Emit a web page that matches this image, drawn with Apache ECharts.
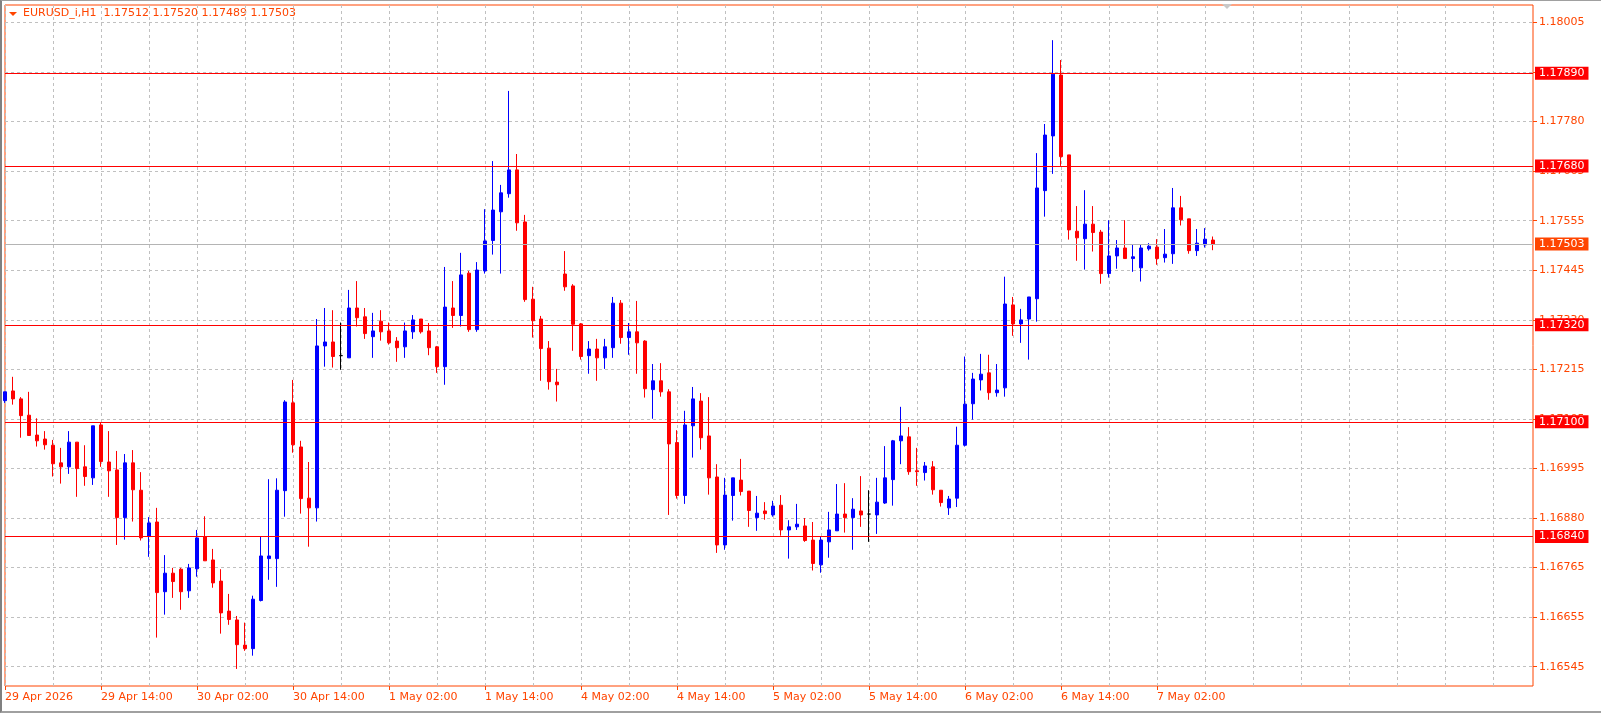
<!DOCTYPE html>
<html>
<head>
<meta charset="utf-8">
<title>EURUSD_i,H1</title>
<script src="https://cdn.jsdelivr.net/npm/echarts@6/dist/echarts.min.js"></script>
<style>
html, body { margin: 0; padding: 0; background: #fff; }
#chart { width: 1601px; height: 713px; }
#edge { position: absolute; left: 0; top: 0; width: 1601px; height: 713px; box-sizing: border-box;
        border-left: 2px solid #808080; border-top: 1px solid #a0a0a0; border-bottom: 2px solid #a0a0a0; pointer-events: none; }
</style>
</head>
<body>
<div id="chart"></div>
<div id="edge"></div>
<script>
var symbolName = 'EURUSD_i,H1';

// one label every 12 bars, first at bar 0
var timeLabels = ['29 Apr 2026', '29 Apr 14:00', '30 Apr 02:00', '30 Apr 14:00', '1 May 02:00', '1 May 14:00',
    '4 May 02:00', '4 May 14:00', '5 May 02:00', '5 May 14:00', '6 May 02:00', '6 May 14:00', '7 May 02:00'];

var opens = [
    1.17148, 1.17170, 1.17152, 1.17115, 1.17070, 1.17061, 1.17047, 1.17007, 1.16998, 1.17054,
    1.16998, 1.16973, 1.17093, 1.17009, 1.16991, 1.16883, 1.17007, 1.16945, 1.16840, 1.16873,
    1.16715, 1.16757, 1.16766, 1.16717, 1.16767, 1.16840, 1.16787, 1.16739, 1.16671, 1.16651,
    1.16594, 1.16586, 1.16695, 1.16790, 1.16790, 1.16944, 1.17143, 1.17043, 1.16927, 1.16905,
    1.17272, 1.17281, 1.17250, 1.17245, 1.17358, 1.17338, 1.17293, 1.17328, 1.17306, 1.17283,
    1.17270, 1.17304, 1.17333, 1.17306, 1.17270, 1.17225, 1.17358, 1.17341, 1.17437, 1.17309,
    1.17442, 1.17511, 1.17576, 1.17617, 1.17671, 1.17553, 1.17378, 1.17333, 1.17267, 1.17190,
    1.17435, 1.17408, 1.17322, 1.17250, 1.17265, 1.17245, 1.17268, 1.17369, 1.17291, 1.17304,
    1.17283, 1.17173, 1.17193, 1.17168, 1.17053, 1.16933, 1.17091, 1.17147, 1.17068, 1.16975,
    1.16821, 1.16933, 1.16968, 1.16943, 1.16883, 1.16898, 1.16889, 1.16911, 1.16855, 1.16862,
    1.16864, 1.16832, 1.16776, 1.16828, 1.16853, 1.16891, 1.16883, 1.16898, 1.16891, 1.16889,
    1.16916, 1.16969, 1.17057, 1.17066, 1.16989, 1.16985, 1.16998, 1.16945, 1.16905, 1.16927,
    1.17047, 1.17141, 1.17195, 1.17211, 1.17166, 1.17177, 1.17365, 1.17322, 1.17333, 1.17379,
    1.17624, 1.17748, 1.17886, 1.17705, 1.17532, 1.17515, 1.17548, 1.17530, 1.17436, 1.17476,
    1.17494, 1.17470, 1.17449, 1.17492, 1.17496, 1.17472, 1.17481, 1.17585, 1.17560, 1.17488,
    1.17501, 1.17512
];
var highs = [
    1.17168, 1.17202, 1.17156, 1.17168, 1.17108, 1.17079, 1.17059, 1.17041, 1.17079, 1.17054,
    1.17047, 1.17091, 1.17098, 1.17079, 1.17034, 1.17027, 1.17036, 1.16986, 1.16884, 1.16905,
    1.16798, 1.16769, 1.16769, 1.16778, 1.16855, 1.16886, 1.16812, 1.16766, 1.16710, 1.16660,
    1.16645, 1.16706, 1.16840, 1.16970, 1.16972, 1.17149, 1.17195, 1.17057, 1.17009, 1.17333,
    1.17358, 1.17353, 1.17325, 1.17399, 1.17419, 1.17358, 1.17347, 1.17353, 1.17325, 1.17292,
    1.17325, 1.17342, 1.17333, 1.17324, 1.17272, 1.17451, 1.17419, 1.17483, 1.17442, 1.17462,
    1.17582, 1.17691, 1.17637, 1.17850, 1.17707, 1.17569, 1.17406, 1.17340, 1.17283, 1.17220,
    1.17487, 1.17412, 1.17324, 1.17283, 1.17288, 1.17288, 1.17383, 1.17376, 1.17324, 1.17374,
    1.17285, 1.17231, 1.17233, 1.17174, 1.17081, 1.17125, 1.17179, 1.17165, 1.17156, 1.17004,
    1.16973, 1.16973, 1.17016, 1.16943, 1.16932, 1.16918, 1.16921, 1.16934, 1.16877, 1.16914,
    1.16882, 1.16873, 1.16841, 1.16896, 1.16959, 1.16961, 1.16927, 1.16977, 1.16945, 1.16973,
    1.17045, 1.17059, 1.17134, 1.17088, 1.17041, 1.17009, 1.17011, 1.16945, 1.16932, 1.17089,
    1.17248, 1.17211, 1.17254, 1.17252, 1.17231, 1.17429, 1.17383, 1.17356, 1.17383, 1.17709,
    1.17775, 1.17965, 1.17920, 1.17705, 1.17589, 1.17625, 1.17589, 1.17535, 1.17557, 1.17512,
    1.17557, 1.17501, 1.17503, 1.17505, 1.17514, 1.17537, 1.17630, 1.17612, 1.17560, 1.17537,
    1.17539, 1.17520
];
var lows = [
    1.17143, 1.17139, 1.17064, 1.17069, 1.17044, 1.17037, 1.16976, 1.16960, 1.16982, 1.16930,
    1.16955, 1.16957, 1.16998, 1.16930, 1.16821, 1.16833, 1.16874, 1.16831, 1.16794, 1.16611,
    1.16663, 1.16701, 1.16674, 1.16701, 1.16749, 1.16785, 1.16724, 1.16620, 1.16640, 1.16540,
    1.16581, 1.16570, 1.16693, 1.16742, 1.16726, 1.16885, 1.17030, 1.16892, 1.16817, 1.16874,
    1.17225, 1.17223, 1.17218, 1.17245, 1.17316, 1.17288, 1.17245, 1.17284, 1.17275, 1.17236,
    1.17245, 1.17288, 1.17300, 1.17251, 1.17211, 1.17184, 1.17313, 1.17316, 1.17304, 1.17304,
    1.17436, 1.17479, 1.17436, 1.17608, 1.17533, 1.17372, 1.17291, 1.17193, 1.17173, 1.17146,
    1.17397, 1.17261, 1.17241, 1.17209, 1.17193, 1.17220, 1.17245, 1.17277, 1.17252, 1.17209,
    1.17155, 1.17107, 1.17157, 1.16889, 1.16926, 1.16914, 1.17019, 1.17037, 1.16935, 1.16803,
    1.16810, 1.16876, 1.16933, 1.16862, 1.16853, 1.16878, 1.16885, 1.16842, 1.16790, 1.16855,
    1.16828, 1.16763, 1.16758, 1.16792, 1.16853, 1.16849, 1.16810, 1.16862, 1.16828, 1.16846,
    1.16914, 1.16910, 1.17004, 1.16980, 1.16955, 1.16967, 1.16935, 1.16908, 1.16889, 1.16907,
    1.17044, 1.17105, 1.17171, 1.17150, 1.17157, 1.17157, 1.17295, 1.17279, 1.17241, 1.17327,
    1.17565, 1.17662, 1.17680, 1.17513, 1.17465, 1.17445, 1.17486, 1.17413, 1.17427, 1.17447,
    1.17470, 1.17440, 1.17418, 1.17488, 1.17456, 1.17461, 1.17458, 1.17545, 1.17481, 1.17476,
    1.17495, 1.17489
];
var closes = [
    1.17168, 1.17152, 1.17114, 1.17069, 1.17057, 1.17048, 1.17005, 1.16998, 1.17054, 1.16994,
    1.16976, 1.17091, 1.17010, 1.16989, 1.16883, 1.17007, 1.16946, 1.16837, 1.16871, 1.16713,
    1.16757, 1.16738, 1.16715, 1.16769, 1.16837, 1.16785, 1.16735, 1.16667, 1.16652, 1.16595,
    1.16586, 1.16698, 1.16796, 1.16796, 1.16945, 1.17145, 1.17048, 1.16926, 1.16905, 1.17272,
    1.17281, 1.17248, 1.17250, 1.17358, 1.17336, 1.17300, 1.17306, 1.17304, 1.17279, 1.17268,
    1.17306, 1.17331, 1.17304, 1.17268, 1.17225, 1.17360, 1.17341, 1.17433, 1.17309, 1.17444,
    1.17510, 1.17580, 1.17619, 1.17671, 1.17551, 1.17377, 1.17329, 1.17266, 1.17191, 1.17184,
    1.17406, 1.17321, 1.17248, 1.17265, 1.17245, 1.17270, 1.17369, 1.17291, 1.17304, 1.17279,
    1.17175, 1.17193, 1.17168, 1.17050, 1.16933, 1.17093, 1.17152, 1.17064, 1.16973, 1.16821,
    1.16934, 1.16973, 1.16942, 1.16899, 1.16893, 1.16892, 1.16909, 1.16855, 1.16862, 1.16868,
    1.16831, 1.16779, 1.16832, 1.16855, 1.16891, 1.16883, 1.16902, 1.16889, 1.16891, 1.16918,
    1.16973, 1.17057, 1.17068, 1.16987, 1.16987, 1.17000, 1.16946, 1.16917, 1.16925, 1.17047,
    1.17140, 1.17197, 1.17208, 1.17166, 1.17172, 1.17367, 1.17322, 1.17331, 1.17383, 1.17630,
    1.17750, 1.17888, 1.17701, 1.17535, 1.17517, 1.17548, 1.17529, 1.17436, 1.17476, 1.17494,
    1.17470, 1.17474, 1.17494, 1.17498, 1.17470, 1.17480, 1.17585, 1.17558, 1.17488, 1.17505,
    1.17514, 1.17503
];

// right scale labels, top to bottom (evenly spaced grid)
var priceLabels = ['1.18005', '1.17890', '1.17780', '1.17665', '1.17555', '1.17445', '1.17330',
    '1.17215', '1.17105', '1.16995', '1.16880', '1.16765', '1.16655', '1.16545'];

// horizontal levels
var levels = [1.17890, 1.17680, 1.17320, 1.17100, 1.16840];
var lastPrice = 1.17503;

var totalSlots = 192;   // bars + empty space on the right
var barsPerLabel = 12;
var yMin = 1.165013, yMax = 1.180447;

var txtColor = '#ff4500';
var font = 'DejaVu Sans';
var fontSize = 11;

// tick values: spread evenly between the first and last label
var topTick = parseFloat(priceLabels[0]);
var botTick = parseFloat(priceLabels[priceLabels.length - 1]);
var tickValues = priceLabels.map(function (s, i) {
    return topTick - (topTick - botTick) * i / (priceLabels.length - 1);
});

var slots = [];
for (var i = 0; i < totalSlots; i++) slots.push(String(i));

var candles = opens.map(function (o, i) {
    return [o, closes[i], lows[i], highs[i]];
});

function isLabelSlot(i) {
    return i % barsPerLabel === 0 && i / barsPerLabel < timeLabels.length;
}

var lastIdx = opens.length - 1;
var header = symbolName + '  ' + [opens[lastIdx], highs[lastIdx], lows[lastIdx], closes[lastIdx]]
    .map(function (v) { return v.toFixed(5); }).join(' ');

var levelLines = levels.map(function (v) {
    return { yAxis: v, lineStyle: { color: '#ff0000', width: 1, type: 'solid' },
             label: { backgroundColor: '#ff0000' } };
});
levelLines.push({ yAxis: lastPrice, lineStyle: { color: '#b4b4b4', width: 1, type: 'solid' },
                  label: { backgroundColor: '#ff4500' } });

var chart = echarts.init(document.getElementById('chart'));
chart.setOption({
    animation: false,
    backgroundColor: '#ffffff',
    grid: {
        left: 5, right: 68, top: 5, bottom: 27,
        show: true, borderColor: '#ff4500', borderWidth: 1, backgroundColor: '#ffffff'
    },
    xAxis: {
        type: 'category',
        data: slots,
        boundaryGap: false,
        axisLine: { show: false },
        axisTick: {
            show: true, length: 4, interval: function (i) { return isLabelSlot(i); },
            lineStyle: { color: txtColor }
        },
        axisLabel: {
            interval: function (i) { return isLabelSlot(i); },
            formatter: function (v, i) { return isLabelSlot(i) ? timeLabels[i / barsPerLabel] : ''; },
            align: 'left', margin: 6, color: txtColor, fontSize: fontSize, fontFamily: font
        },
        splitLine: { show: true, interval: 5, lineStyle: { color: '#c0c0c0', type: [3, 3], width: 1 } }
    },
    yAxis: {
        type: 'value',
        position: 'right',
        min: yMin, max: yMax,
        axisLine: { show: false },
        axisTick: { show: true, length: 4, customValues: tickValues, lineStyle: { color: txtColor } },
        axisLabel: {
            customValues: tickValues,
            formatter: function (v) {
                for (var k = 0; k < tickValues.length; k++) {
                    if (Math.abs(tickValues[k] - v) < 1e-7) return priceLabels[k];
                }
                return v.toFixed(5);
            },
            margin: 6, color: txtColor, fontSize: fontSize, fontFamily: font
        },
        splitLine: { show: true, lineStyle: { color: '#c0c0c0', type: [3, 3], width: 1 } }
    },
    graphic: [
        { type: 'polygon', shape: { points: [[9, 12], [17, 12], [13, 16]] }, style: { fill: txtColor } },
        { type: 'text', left: 23, top: 8, style: { text: header, fill: txtColor, font: fontSize + 'px "DejaVu Sans"' } },
        { type: 'polygon', shape: { points: [[1222, 4], [1232, 4], [1227, 9]] }, style: { fill: '#c8c8c8' } }
    ],
    series: [{
        type: 'candlestick',
        data: candles,
        barWidth: 4,
        itemStyle: {
            color: '#0000ff', color0: '#ff0000',
            borderColor: '#0000ff', borderColor0: '#ff0000',
            borderColorDoji: '#000000', borderWidth: 1
        },
        markLine: {
            silent: true,
            symbol: 'none',
            precision: 5,
            label: {
                show: true, position: 'end', distance: 2,
                formatter: function (p) { return p.value.toFixed(5); },
                color: '#ffffff', fontSize: fontSize, fontFamily: font,
                padding: [1, 4, 1, 4]
            },
            data: levelLines
        }
    }]
});
</script>
</body>
</html>
